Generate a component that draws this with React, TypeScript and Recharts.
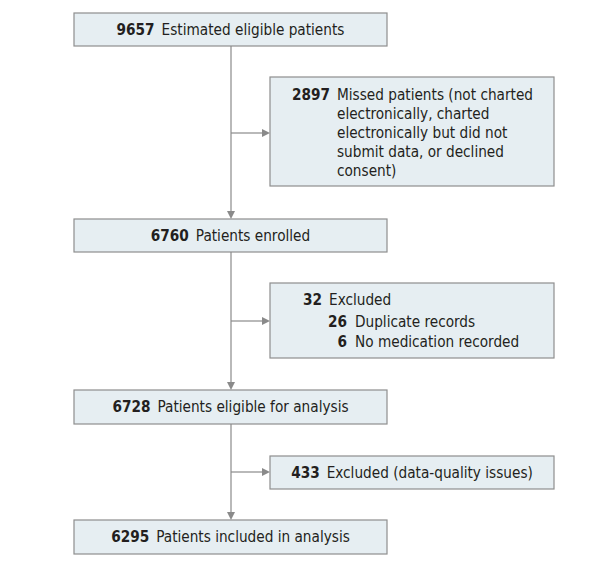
import { ComposedChart, XAxis, YAxis, ReferenceArea, ReferenceLine } from "recharts";

// flow counts and labels
const mainCounts = [9657, 6760, 6728, 6295];
const mainLabels = [
  "Estimated eligible patients",
  "Patients enrolled",
  "Patients eligible for analysis",
  "Patients included in analysis",
];
const exclusionCounts = [2897, 32, 433];
const exclusionLabels = [
  [
    "Missed patients (not charted",
    "electronically, charted",
    "electronically but did not",
    "submit data, or declined",
    "consent)",
  ],
  ["Excluded"],
  ["Excluded (data-quality issues)"],
];
const subCounts = [26, 6];
const subLabels = ["Duplicate records", "No medication recorded"];

// layout (chart units = pixels)
const W = 612;
const H = 575;
const mainX: [number, number] = [74, 387];
const mainY: [number, number][] = [
  [13, 46],
  [219, 252],
  [390, 424],
  [520, 554],
];
const sideX: [number, number] = [270, 554];
const sideY: [number, number][] = [
  [77, 186],
  [283, 358],
  [456, 489],
];
const spineX = 231;
const branchY = [133, 321, 472];

const FONT = "'Liberation Sans Narrow', 'DejaVu Sans Condensed', sans-serif";
const FS = 15.2;
const FILL = "#e6eef2";
const BORDER = "#8e8e8e";
const LINE = "#8a8a8a";
const TEXT = "#231f20";

const Arrow = (props: any) => {
  const { x1, y1, x2, y2 } = props;
  const dx = x2 - x1;
  const dy = y2 - y1;
  const len = Math.sqrt(dx * dx + dy * dy) || 1;
  const ux = dx / len;
  const uy = dy / len;
  const L = 8;
  const hw = 4;
  const bx = x2 - ux * L;
  const by = y2 - uy * L;
  const pts = `${x2},${y2} ${bx - uy * hw},${by + ux * hw} ${bx + uy * hw},${by - ux * hw}`;
  return (
    <g>
      <line x1={x1} y1={y1} x2={bx} y2={by} stroke={LINE} strokeWidth={1.2} />
      <polygon points={pts} fill={LINE} />
    </g>
  );
};

const MainBox = (i: number) => (props: any) => {
  const { x, y, width, height } = props;
  return (
    <g>
      <rect x={x} y={y} width={width} height={height} fill={FILL} stroke={BORDER} strokeWidth={1.2} />
      <text
        x={x + width / 2}
        y={y + height / 2 + 5}
        textAnchor="middle"
        fontFamily={FONT}
        fontSize={FS}
        fill={TEXT}
      >
        <tspan fontWeight="bold">{mainCounts[i]}</tspan>
        <tspan dx={7}>{mainLabels[i]}</tspan>
      </text>
    </g>
  );
};

const SideBox = (i: number) => (props: any) => {
  const { x, y, width, height } = props;
  const rect = (
    <rect x={x} y={y} width={width} height={height} fill={FILL} stroke={BORDER} strokeWidth={1.2} />
  );
  if (i === 0) {
    return (
      <g>
        {rect}
        <text x={x + 22} y={y + 23} fontFamily={FONT} fontSize={FS} fill={TEXT} fontWeight="bold">
          {exclusionCounts[0]}
        </text>
        {exclusionLabels[0].map((s, k) => (
          <text key={k} x={x + 67} y={y + 23 + k * 19} fontFamily={FONT} fontSize={FS} fill={TEXT}>
            {s}
          </text>
        ))}
      </g>
    );
  }
  if (i === 1) {
    return (
      <g>
        {rect}
        <text x={x + 52} y={y + 22} textAnchor="end" fontFamily={FONT} fontSize={FS} fill={TEXT} fontWeight="bold">
          {exclusionCounts[1]}
        </text>
        <text x={x + 59} y={y + 22} fontFamily={FONT} fontSize={FS} fill={TEXT}>
          {exclusionLabels[1][0]}
        </text>
        {subCounts.map((c, k) => (
          <g key={k}>
            <text
              x={x + 77}
              y={y + 44 + k * 20}
              textAnchor="end"
              fontFamily={FONT}
              fontSize={FS}
              fill={TEXT}
              fontWeight="bold"
            >
              {c}
            </text>
            <text x={x + 85} y={y + 44 + k * 20} fontFamily={FONT} fontSize={FS} fill={TEXT}>
              {subLabels[k]}
            </text>
          </g>
        ))}
      </g>
    );
  }
  return (
    <g>
      {rect}
      <text
        x={x + width / 2}
        y={y + height / 2 + 5}
        textAnchor="middle"
        fontFamily={FONT}
        fontSize={FS}
        fill={TEXT}
      >
        <tspan fontWeight="bold">{exclusionCounts[2]}</tspan>
        <tspan dx={7}>{exclusionLabels[2][0]}</tspan>
      </text>
    </g>
  );
};

export default function App() {
  return (
    <div style={{ margin: -8, width: W, height: H, background: "#fff" }}>
      <ComposedChart width={W} height={H} margin={{ top: 0, right: 0, bottom: 0, left: 0 }}>
        <XAxis type="number" dataKey="x" domain={[0, W]} hide allowDataOverflow />
        <YAxis type="number" dataKey="y" domain={[0, H]} reversed hide allowDataOverflow />
        {mainY.slice(1).map((yy, i) => (
          <ReferenceLine
            key={`spine${i}`}
            segment={[
              { x: spineX, y: mainY[i][1] },
              { x: spineX, y: yy[0] },
            ]}
            shape={Arrow}
            ifOverflow="visible"
          />
        ))}
        {branchY.map((by, i) => (
          <ReferenceLine
            key={`branch${i}`}
            segment={[
              { x: spineX, y: by },
              { x: sideX[0], y: by },
            ]}
            shape={Arrow}
            ifOverflow="visible"
          />
        ))}
        {mainY.map((yy, i) => (
          <ReferenceArea
            key={`main${i}`}
            x1={mainX[0]}
            x2={mainX[1]}
            y1={yy[0]}
            y2={yy[1]}
            shape={MainBox(i)}
            ifOverflow="visible"
          />
        ))}
        {sideY.map((yy, i) => (
          <ReferenceArea
            key={`side${i}`}
            x1={sideX[0]}
            x2={sideX[1]}
            y1={yy[0]}
            y2={yy[1]}
            shape={SideBox(i)}
            ifOverflow="visible"
          />
        ))}
      </ComposedChart>
    </div>
  );
}
